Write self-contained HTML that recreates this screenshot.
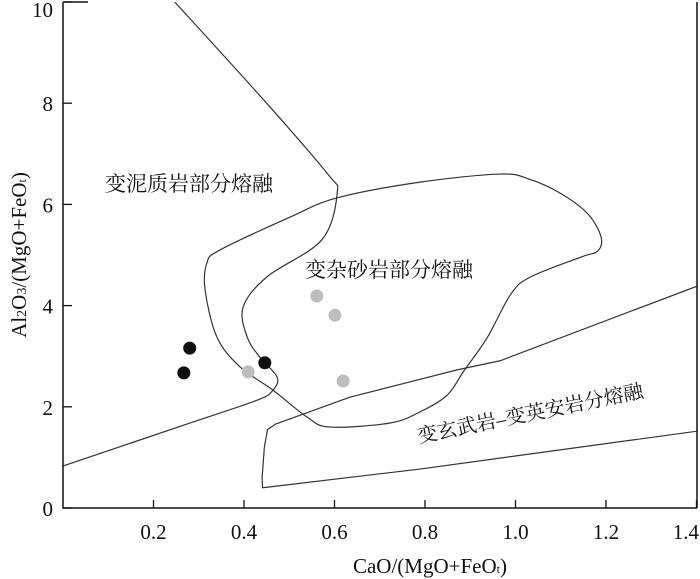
<!DOCTYPE html>
<html><head><meta charset="utf-8"><style>
body{margin:0;background:#fff}
svg{display:block}
text{font-family:"Liberation Serif","Noto Serif CJK SC","Noto Sans CJK SC",serif;fill:#111}
</style></head><body>
<svg id="chart" width="700" height="579" viewBox="0 0 700 579"></svg>
<script>
const xTicks=[0.2,0.4,0.6,0.8,1.0,1.2,1.4];
const xTickLabels=["0.2","0.4","0.6","0.8","1.0","1.2","1.4"];
const yTicks=[0,2,4,6,8,10];
const yTickLabels=["0","2","4","6","8","10"];
const blackX=[0.267,0.280,0.446];
const blackY=[2.67,3.16,2.87];
const grayX=[0.409,0.561,0.601,0.619];
const grayY=[2.69,4.19,3.81,2.51];
const metapeliteBoundary=[[0.243,10.04],[0.45,8.0],[0.585,6.6],[0.606,6.23],[0.572,5.30],[0.451,4.57],[0.398,3.97],[0.407,3.38],[0.435,2.98],[0.473,2.59],[0.464,2.33],[0.429,2.13],[0.281,1.68],[0,0.83]];
const greywackeBoundary=[[0.606,6.13],[0.502,5.75],[0.347,5.10],[0.318,4.84],[0.314,4.31],[0.340,3.38],[0.391,2.79],[0.464,2.33],[0.539,1.80],[0.590,1.60],[0.723,1.68],[0.789,1.90],[0.849,2.23],[0.886,2.71],[0.937,3.36],[0.990,4.23],[1.034,4.57],[1.145,4.96],[1.182,5.08],[1.189,5.36],[1.160,5.81],[1.101,6.21],[1.03,6.5],[0.966,6.60],[0.789,6.44]];
const metabasaltBoundary=[[1.403,4.39],[0.966,2.91],[0.871,2.73],[0.634,2.19],[0.47,1.66],[0.452,1.55],[0.445,1.2],[0.440,0.60],[0.441,0.40],[0.789,0.77],[1.403,1.52]];

const X0=63,X1=697,Y0=508,Ytop=2;
const sx=v=>X0+v*452.5;
const sy=v=>Y0-v*50.6;
const svg=document.getElementById('chart');
const NS='http://www.w3.org/2000/svg';
function mk(tag,attrs,parent){const e=document.createElementNS(NS,tag);for(const k in attrs)e.setAttribute(k,attrs[k]);(parent||svg).appendChild(e);return e;}
function smooth(pts,closed){
  const P=pts.map(p=>[sx(p[0]),sy(p[1])]);const n=P.length;
  let d='M'+P[0][0]+','+P[0][1];
  const get=i=>closed?P[(i+n)%n]:P[Math.max(0,Math.min(n-1,i))];
  const segs=closed?n:n-1;
  for(let i=0;i<segs;i++){
    const p0=get(i-1),p1=get(i),p2=get(i+1),p3=get(i+2);
    const c1=[p1[0]+(p2[0]-p0[0])/6,p1[1]+(p2[1]-p0[1])/6];
    const c2=[p2[0]-(p3[0]-p1[0])/6,p2[1]-(p3[1]-p1[1])/6];
    d+=' C'+c1[0]+','+c1[1]+' '+c2[0]+','+c2[1]+' '+p2[0]+','+p2[1];
  }
  return d+(closed?'Z':'');
}
const clip=mk('clipPath',{id:'pc'});mk('rect',{x:X0,y:Ytop,width:X1-X0,height:Y0-Ytop},clip);
const g=mk('g',{'clip-path':'url(#pc)'});
let e;
e=mk('path',{d:smooth(metapeliteBoundary,false),fill:'none',stroke:'#333','stroke-width':1.2},g);


e=mk('path',{d:smooth(greywackeBoundary,true),fill:'none',stroke:'#333','stroke-width':1.2},g);


e=mk('path',{d:'M'+metabasaltBoundary.map(p=>sx(p[0])+','+sy(p[1])).join(' L'),fill:'none',stroke:'#333','stroke-width':1.2,'stroke-linejoin':'round'},g);


e=mk('path',{d:`M${X0},${Ytop} V${Y0} H${X1} M${X1},${Ytop} V${Y0} M${X0},${Ytop} H${X0+25}`,fill:'none',stroke:'#111','stroke-width':1.5});


xTicks.forEach((v,i)=>{
  const t=mk('line',{x1:sx(v),x2:sx(v),y1:Y0,y2:Y0-8,stroke:'#111','stroke-width':1.3});
  
  
  const last=i===xTicks.length-1;
  const l=mk('text',{x:last?699:sx(v),y:539,'text-anchor':last?'end':'middle','font-size':21});l.textContent=xTickLabels[i];
  
  
});
yTicks.forEach((v,i)=>{
  const t=mk('line',{x1:X0,x2:X0+9,y1:sy(v),y2:sy(v),stroke:'#111','stroke-width':1.3});
  
  
  const l=mk('text',{x:53,y:Math.max(17,sy(v)+8),'text-anchor':'end','font-size':21});l.textContent=yTickLabels[i];
  
  
});
blackX.forEach((v,i)=>{
  const c=mk('circle',{cx:sx(v),cy:sy(blackY[i]),r:6.5,fill:'#111'});
  
  
});
grayX.forEach((v,i)=>{
  const c=mk('circle',{cx:sx(v),cy:sy(grayY[i]),r:6.5,fill:'#bdbdbd'});
  
  
});
</script>
<svg width="700" height="579" style="position:absolute;left:0;top:0">
<text x="105" y="191" font-size="21">变泥质岩部分熔融</text>
<text x="305" y="277" font-size="21">变杂砂岩部分熔融</text>
<text x="419" y="443" font-size="20" transform="rotate(-11.5 419 443)">变玄武岩–变英安岩分熔融</text>
<text x="430" y="573" font-size="21" text-anchor="middle">CaO/(MgO+FeO<tspan font-size="12">t</tspan>)</text>
<text x="0" y="0" font-size="21" text-anchor="middle" transform="translate(26 255) rotate(-90)">Al<tspan font-size="14">2</tspan>O<tspan font-size="14">3</tspan>/(MgO+FeO<tspan font-size="12">t</tspan>)</text>
</svg>
</body></html>
